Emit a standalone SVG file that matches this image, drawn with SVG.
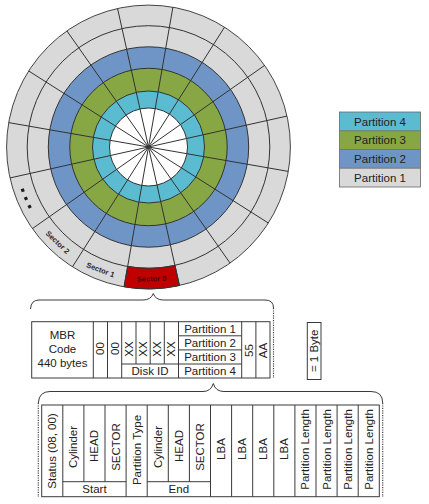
<svg xmlns="http://www.w3.org/2000/svg" width="429" height="504" viewBox="0 0 429 504">
<style>
.ln{stroke:#333;stroke-width:1;fill:none}
.tl{stroke:#3a3a3a;stroke-width:1;fill:none}
.dot{stroke:#444;stroke-width:1.2;stroke-dasharray:1.2 1.2;fill:none}
.t{font-family:"Liberation Sans",Arial,sans-serif;font-size:11.5px;fill:#222;text-anchor:middle}
.s{font-family:"Liberation Sans",Arial,sans-serif;font-size:7.5px;font-weight:bold;fill:#2a2a2a;text-anchor:middle}
.gray{fill:#d9d9d9}.blue{fill:#6f95c6}.green{fill:#87a745}.cyan{fill:#5bbbd0}
</style>
<rect width="429" height="504" fill="#fff"/>
<g id="disk">
<circle cx="148.5" cy="147" r="141.9" class="gray" stroke="#444" stroke-width="1"/>
<circle cx="148.5" cy="147" r="121.3" class="gray" stroke="#333" stroke-width="1"/>
<circle cx="148.5" cy="147" r="100.2" class="blue" stroke="#333" stroke-width="1"/>
<circle cx="148.5" cy="147" r="78.7" class="green" stroke="#333" stroke-width="1"/>
<circle cx="148.5" cy="147" r="56" class="cyan" stroke="#333" stroke-width="1"/>
<circle cx="148.5" cy="147" r="39" fill="#fff" stroke="#333" stroke-width="1"/>
<path d="M174.96,265.38 L179.45,285.5 A141.9,141.9 0 0 1 124.1,286.8 L127.65,266.49 A121.3,121.3 0 0 0 174.96,265.38 Z" fill="#c00000" stroke="#333" stroke-width="1"/>
<g class="ln">
<line x1="179.45" y1="285.5" x2="117.55" y2="8.52"/>
<line x1="124.1" y1="286.8" x2="172.9" y2="7.2"/>
<line x1="72.47" y1="266.8" x2="224.5" y2="27.2"/>
<line x1="32.41" y1="228.6" x2="264.6" y2="65.4"/>
<line x1="10.02" y1="177.95" x2="287.0" y2="116.05"/>
<line x1="8.71" y1="122.6" x2="288.3" y2="171.4"/>
<line x1="28.7" y1="70.97" x2="268.3" y2="223.0"/>
<line x1="66.9" y1="30.9" x2="230.1" y2="263.1"/>
</g>
<text class="s" style="fill:#4a0000" transform="translate(151.6,278.6) rotate(-1.35)" y="2.7">Sector 0</text>
<text class="s" transform="translate(100.5,269.7) rotate(21.15)" y="2.7">Sector 1</text>
<text class="s" transform="translate(57.7,242.2) rotate(43.65)" y="2.7">Sector 2</text>
<g fill="#1a1a1a">
<rect x="-1.6" y="-1.6" width="3.2" height="3.2" transform="translate(22.75,190.3) rotate(71)"/>
<rect x="-1.6" y="-1.6" width="3.2" height="3.2" transform="translate(25.9,198.5) rotate(67)"/>
<rect x="-1.6" y="-1.6" width="3.2" height="3.2" transform="translate(29.6,206.6) rotate(63)"/>
</g>
</g>
<g id="legend">
<rect x="339.5" y="112" width="81" height="18.75" class="cyan"/>
<rect x="339.5" y="130.75" width="81" height="18.75" class="green"/>
<rect x="339.5" y="149.5" width="81" height="18.75" class="blue"/>
<rect x="339.5" y="168.25" width="81" height="18.75" class="gray"/>
<rect x="339.5" y="112" width="81" height="75" fill="none" stroke="#666" stroke-width="0.8"/>
<g stroke="#666" stroke-width="0.8"><line x1="339.5" y1="130.75" x2="420.5" y2="130.75"/><line x1="339.5" y1="149.5" x2="420.5" y2="149.5"/><line x1="339.5" y1="168.25" x2="420.5" y2="168.25"/></g>
<text class="t" x="380" y="125.5">Partition 4</text>
<text class="t" x="380" y="144.2">Partition 3</text>
<text class="t" x="380" y="163">Partition 2</text>
<text class="t" x="380" y="181.7">Partition 1</text>
</g>
<g id="connectors">
<path class="tl" d="M30.5,309 Q31,300 39,300 L143,300 Q151,300 153.3,293.5 Q155.5,300 163.5,300 L265,300 Q273.5,300 273.5,308"/>
<line class="dot" x1="273.5" y1="308" x2="273.5" y2="378"/>
<path class="tl" d="M38.3,403 Q39,391.5 50,391.5 L203,391.5 Q211,391.5 213.3,383.5 Q215.5,391.5 224,391.5 L371,391.5 Q382.7,391.5 382.7,403"/>
<line class="dot" x1="38.3" y1="403" x2="38.3" y2="497"/>
<line class="dot" x1="382.7" y1="403" x2="382.7" y2="497"/>
</g>
<g id="mbr">
<rect class="tl" x="31.7" y="321.7" width="238.3" height="56.3"/>
<g class="tl">
<line x1="93.3" y1="321.7" x2="93.3" y2="378"/>
<line x1="107.5" y1="321.7" x2="107.5" y2="378"/>
<line x1="121.7" y1="321.7" x2="121.7" y2="378"/>
<line x1="136" y1="321.7" x2="136" y2="364"/>
<line x1="150.2" y1="321.7" x2="150.2" y2="364"/>
<line x1="164.3" y1="321.7" x2="164.3" y2="364"/>
<line x1="178.5" y1="321.7" x2="178.5" y2="378"/>
<line x1="241.7" y1="321.7" x2="241.7" y2="378"/>
<line x1="255.9" y1="321.7" x2="255.9" y2="378"/>
<line x1="121.7" y1="364" x2="178.5" y2="364"/>
<line x1="178.5" y1="335.8" x2="241.7" y2="335.8"/>
<line x1="178.5" y1="349.9" x2="241.7" y2="349.9"/>
<line x1="178.5" y1="364" x2="241.7" y2="364"/>
</g>
<text class="t" x="62.5" y="339">MBR</text>
<text class="t" x="62.5" y="353.3">Code</text>
<text class="t" x="62.5" y="367.3">440 bytes</text>
<text class="t" transform="translate(100.4,348.5) rotate(-90)" y="4">00</text>
<text class="t" transform="translate(114.6,348.5) rotate(-90)" y="4">00</text>
<text class="t" transform="translate(128.85,349) rotate(-90)" y="4">XX</text>
<text class="t" transform="translate(143.1,349) rotate(-90)" y="4">XX</text>
<text class="t" transform="translate(157.25,349) rotate(-90)" y="4">XX</text>
<text class="t" transform="translate(171.4,349) rotate(-90)" y="4">XX</text>
<text class="t" x="150.1" y="375">Disk ID</text>
<text class="t" x="210.1" y="332.9">Partition 1</text>
<text class="t" x="210.1" y="347">Partition 2</text>
<text class="t" x="210.1" y="361.1">Partition 3</text>
<text class="t" x="210.1" y="375.1">Partition 4</text>
<text class="t" transform="translate(248.8,350.5) rotate(-90)" y="4">55</text>
<text class="t" transform="translate(263,350.5) rotate(-90)" y="4">AA</text>
</g>
<g id="byte">
<rect class="tl" x="307.3" y="322.5" width="13.7" height="57"/>
<text class="t" transform="translate(314.15,350.8) rotate(-90)" y="4">= 1 Byte</text>
</g>
<g id="entry">
<rect class="tl" x="41.7" y="405" width="337.6" height="91.7"/>
<g class="tl">
<line x1="62.8" y1="405" x2="62.8" y2="496.7"/>
<line x1="83.9" y1="405" x2="83.9" y2="481.7"/>
<line x1="105" y1="405" x2="105" y2="481.7"/>
<line x1="126.1" y1="405" x2="126.1" y2="496.7"/>
<line x1="147.2" y1="405" x2="147.2" y2="496.7"/>
<line x1="168.3" y1="405" x2="168.3" y2="481.7"/>
<line x1="189.4" y1="405" x2="189.4" y2="481.7"/>
<line x1="210.5" y1="405" x2="210.5" y2="496.7"/>
<line x1="231.6" y1="405" x2="231.6" y2="496.7"/>
<line x1="252.7" y1="405" x2="252.7" y2="496.7"/>
<line x1="273.8" y1="405" x2="273.8" y2="496.7"/>
<line x1="294.9" y1="405" x2="294.9" y2="496.7"/>
<line x1="316" y1="405" x2="316" y2="496.7"/>
<line x1="337.1" y1="405" x2="337.1" y2="496.7"/>
<line x1="358.2" y1="405" x2="358.2" y2="496.7"/>
<line x1="62.8" y1="481.7" x2="126.1" y2="481.7"/>
<line x1="147.2" y1="481.7" x2="210.5" y2="481.7"/>
</g>
<text class="t" transform="translate(52.25,451) rotate(-90)" y="4">Status (08, 00)</text>
<text class="t" transform="translate(73.35,447) rotate(-90)" y="4">Cylinder</text>
<text class="t" transform="translate(94.45,446) rotate(-90)" y="4">HEAD</text>
<text class="t" transform="translate(115.55,447) rotate(-90)" y="4">SECTOR</text>
<text class="t" transform="translate(136.65,450) rotate(-90)" y="4">Partition Type</text>
<text class="t" transform="translate(157.75,447) rotate(-90)" y="4">Cylinder</text>
<text class="t" transform="translate(178.85,446) rotate(-90)" y="4">HEAD</text>
<text class="t" transform="translate(199.95,447) rotate(-90)" y="4">SECTOR</text>
<text class="t" transform="translate(221.05,449) rotate(-90)" y="4">LBA</text>
<text class="t" transform="translate(242.15,449) rotate(-90)" y="4">LBA</text>
<text class="t" transform="translate(263.25,449) rotate(-90)" y="4">LBA</text>
<text class="t" transform="translate(284.35,449) rotate(-90)" y="4">LBA</text>
<text class="t" transform="translate(305.45,449.5) rotate(-90)" y="4">Partition Length</text>
<text class="t" transform="translate(326.55,449.5) rotate(-90)" y="4">Partition Length</text>
<text class="t" transform="translate(347.65,449.5) rotate(-90)" y="4">Partition Length</text>
<text class="t" transform="translate(368.75,449.5) rotate(-90)" y="4">Partition Length</text>
<text class="t" x="94.45" y="493.3">Start</text>
<text class="t" x="178.85" y="493.3">End</text>
</g>
</svg>
